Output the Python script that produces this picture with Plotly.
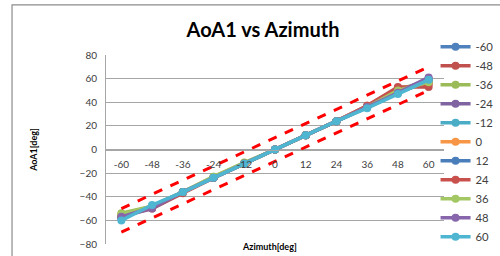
import plotly.graph_objects as go

azimuth = ["-60", "-48", "-36", "-24", "-12", "0", "12", "24", "36", "48", "60"]
series_names = ["-60", "-48", "-36", "-24", "-12", "0", "12", "24", "36", "48", "60"]

s_m60 = [-57, -49, -36, -24, -12, 0, 12, 24, 36, 49, 57]
s_m48 = [-56, -50, -37, -24, -12, 0, 12, 24, 37, 53, 53]
s_m36 = [-54, -48, -36, -23, -11, 0, 12, 24, 36, 51, 58]
s_m24 = [-57, -50, -36, -24, -12, 0, 12, 24, 36, 49, 60]
s_m12 = [-58, -48, -36, -24, -12, 0, 12, 24, 36, 48, 58]
s_0 = [-57, -48, -36, -24, -12, 0, 12, 24, 36, 49, 57]
s_12 = [-58, -48, -36, -24, -12, 0, 12, 24, 36, 48, 58]
s_24 = [-57, -49, -36, -24, -12, 0, 12, 24, 37, 52, 55]
s_36 = [-55, -48, -36, -23, -12, 0, 12, 24, 36, 50, 57]
s_48 = [-57, -49, -36, -24, -12, 0, 12, 24, 36, 48, 61]
s_60 = [-60, -47, -36, -24, -12, 0, 12, 24, 35, 47, 59]

all_series = [s_m60, s_m48, s_m36, s_m24, s_m12, s_0, s_12, s_24, s_36, s_48, s_60]
colors = ["#4F81BD", "#C0504D", "#9BBB59", "#8064A2", "#4BACC6", "#F79646",
          "#4A7EBB", "#C8504D", "#A3C763", "#8766AB", "#4FB6D2"]

limit_x = ["-60", "60"]
upper_limit = [-50, 70]
lower_limit = [-70, 50]

FONT = "Lato, 'Liberation Sans', sans-serif"

fig = go.Figure()
for name, vals, col in zip(series_names, all_series, colors):
    fig.add_trace(go.Scatter(
        x=azimuth, y=vals, name=name, mode="lines+markers",
        line=dict(color=col, width=3.5),
        marker=dict(color=col, size=8),
    ))

for vals in (upper_limit, lower_limit):
    fig.add_trace(go.Scatter(
        x=limit_x, y=vals, mode="lines", showlegend=False,
        line=dict(color="#FF0000", width=3, dash="dash"),
        hoverinfo="skip",
    ))

fig.update_layout(
    width=500, height=256,
    margin=dict(l=106, r=56, t=55, b=12, autoexpand=False),
    paper_bgcolor="white", plot_bgcolor="white",
    font=dict(family=FONT, size=10, color="#404040"),
    title=dict(text="<b>AoA1 vs Azimuth</b>", xref="container", x=0.526,
               xanchor="center", y=0.883, yanchor="middle",
               font=dict(size=20, color="#000000", family=FONT)),
    showlegend=True,
    legend=dict(x=0.975, xanchor="left", y=1.12, yanchor="top",
                font=dict(size=11.3, color="#404040", family=FONT),
                tracegroupgap=0, itemwidth=30, bgcolor="rgba(0,0,0,0)",
                maxheight=250),
    xaxis=dict(type="category", categoryorder="array", categoryarray=azimuth,
               range=[-0.5, 10.5], anchor="free", position=0.5,
               showgrid=False, showline=True, linecolor="#A6A6A6", linewidth=1,
               ticks="", tickfont=dict(size=10, color="#404040"),
               ticklabelstandoff=5, zeroline=False),
    yaxis=dict(range=[-80, 80], tickvals=[-80, -60, -40, -20, 0, 20, 40, 60, 80],
               showgrid=True, gridcolor="#A6A6A6", gridwidth=1,
               showline=True, linecolor="#A6A6A6", linewidth=1,
               zeroline=False, ticks="", tickfont=dict(size=10, color="#404040"),
               ticklabelstandoff=6,
               title=dict(text="<b>AoA1[deg]</b>", font=dict(size=9, color="#000000"),
                          standoff=40)),
    annotations=[dict(text="<b>Azimuth[deg]</b>", xref="paper", yref="paper",
                      x=0.485, y=-0.015, xanchor="center", yanchor="middle",
                      showarrow=False, font=dict(size=9, color="#000000"))],
    shapes=[dict(type="rect", xref="paper", yref="paper",
                 x0=-0.278, x1=1.3, y0=-0.3, y1=1.265,
                 line=dict(color="#8C8C8C", width=1.2), fillcolor="rgba(0,0,0,0)",
                 layer="below")],
)

fig.write_html("out.html", config={"displayModeBar": False},
               post_script="document.body.style.margin='0';")
